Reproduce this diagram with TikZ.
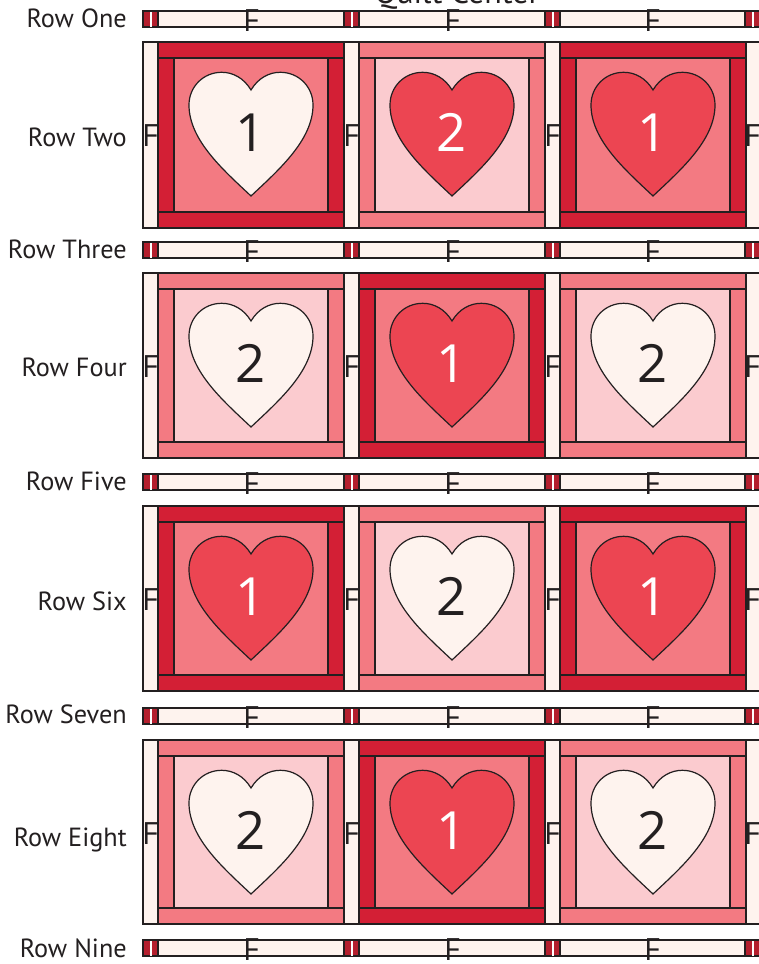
\documentclass[tikz,border=0pt]{standalone}
\usepackage{fontspec}
\setmainfont{PT Sans}
\newfontfamily\quiltnum{Open Sans}
\definecolor{QuiltDark}{HTML}{D31F35}
\definecolor{QuiltMid}{HTML}{F37A82}
\definecolor{QuiltLight}{HTML}{FBCBCF}
\definecolor{QuiltCream}{HTML}{FEF3EE}
\definecolor{QuiltHeart}{HTML}{EC4552}
\definecolor{QuiltStone}{HTML}{B41F2E}
\definecolor{QuiltInk}{HTML}{231F20}
\tikzset{
    seam/.style={draw=QuiltInk, line width=0.9pt},
    rowlabel/.style={anchor=base east, inner sep=0pt, text=QuiltInk, font=\fontsize{19.7}{22}\selectfont},
    fabric/.style={inner sep=0pt, text=QuiltInk, anchor=base, font=\quiltnum\fontsize{23}{26}\selectfont},
    heartnum/.style={inner sep=0pt, anchor=base, font=\quiltnum\fontsize{39.5}{44}\selectfont}
}

\begin{document}
\begin{tikzpicture}[x=0.75pt, y=-0.75pt]
    \useasboundingbox (0,0) rectangle (759,964);

    % ========== HEADING (cut by the page edge) ==========
    \node[inner sep=0pt, anchor=base, text=QuiltInk, font=\fontsize{24}{26}\selectfont] (title) at (457,3) {Quilt Center};

    % ========== SASHING STRIPS ==========
    \foreach \sy/\rowid in {11/a, 242/b, 474/c, 708/d, 940/e} {
        \begin{scope}[shift={(0,\sy)}]
            % Long cream strips
            \foreach \sx/\cx in {158/251, 359/452, 560/652} {
                \draw[seam, fill=QuiltCream] (\sx,0) rectangle ++(186,16);
                \node[fabric] (strip-\rowid-\cx) at (\cx,20) {F};
            }
            % Cornerstones with the white stripe
            \foreach \sx in {143, 344, 545, 745} {
                \draw[seam, fill=QuiltStone] (\sx,0) rectangle ++(15,16);
                \fill[white] (\sx+6.5,0.5) rectangle ++(2,15);
            }
        \end{scope}
    }

    % ========== HEART BLOCKS ==========
    \foreach \by/\bh/\rowid/\kindA/\kindB/\kindC in {
        42/186/a/1/4/3,
        273/185/b/2/3/2,
        506/185/c/3/2/3,
        740/184/d/2/3/2} {

        % Vertical sashing with its F
        \foreach \sx in {143, 344, 545, 745} {
            \draw[seam, fill=QuiltCream] (\sx,\by) rectangle ++(15,\bh);
            \node[fabric] (sash-\rowid-\sx) at (\sx+7,\by+104) {F};
        }

        \foreach \bx/\kind in {158/\kindA, 359/\kindB, 560/\kindC} {
            % kind 1: dark frame, cream heart, 1
            % kind 2: mid frame, cream heart, 2
            % kind 3: dark frame, red heart, 1
            % kind 4: mid frame, red heart, 2
            \ifcase\kind\or
                \def\bandcol{QuiltDark}\def\innercol{QuiltMid}\def\heartcol{QuiltCream}\def\numcol{QuiltInk}\def\num{1}\or
                \def\bandcol{QuiltMid}\def\innercol{QuiltLight}\def\heartcol{QuiltCream}\def\numcol{QuiltInk}\def\num{2}\or
                \def\bandcol{QuiltDark}\def\innercol{QuiltMid}\def\heartcol{QuiltHeart}\def\numcol{white}\def\num{1}\or
                \def\bandcol{QuiltMid}\def\innercol{QuiltLight}\def\heartcol{QuiltHeart}\def\numcol{white}\def\num{2}\fi
            \begin{scope}[shift={(\bx,\by)}]
                % Frame
                \draw[seam, fill=\bandcol] (0,0) rectangle (186,\bh);
                \draw[seam] (0,16) -- (186,16);
                \draw[seam] (0,\bh-16) -- (186,\bh-16);
                % Centre square
                \draw[seam, fill=\innercol] (16,16) rectangle (170,\bh-16);
                % Heart
                \draw[seam, fill=\heartcol] (93,48)
                    .. controls (86,36.3) and (75.3,30.3) .. (63.7,30.3)
                    .. controls (45.3,30.3) and (31,44.7) .. (31,63)
                    .. controls (31,98) and (65.3,128) .. (93,154)
                    .. controls (120.7,128) and (155,98) .. (155,63)
                    .. controls (155,44.7) and (140.7,30.3) .. (122.3,30.3)
                    .. controls (110.7,30.3) and (100,36.3) .. (93,48) -- cycle;
                \node[heartnum, text=\numcol] (num-\rowid-\bx) at (93,109) {\num};
            \end{scope}
        }
    }

    % ========== ROW LABELS ==========
    \foreach \ly/\rowname/\rowid in {27/Row One/one, 146/Row Two/two, 258/Row Three/three,
        376/Row Four/four, 490/Row Five/five, 610/Row Six/six,
        723/Row Seven/seven, 846/Row Eight/eight, 957/Row Nine/nine} {
        \node[rowlabel] (label-\rowid) at (127,\ly) {\rowname};
    }
\end{tikzpicture}
\end{document}
